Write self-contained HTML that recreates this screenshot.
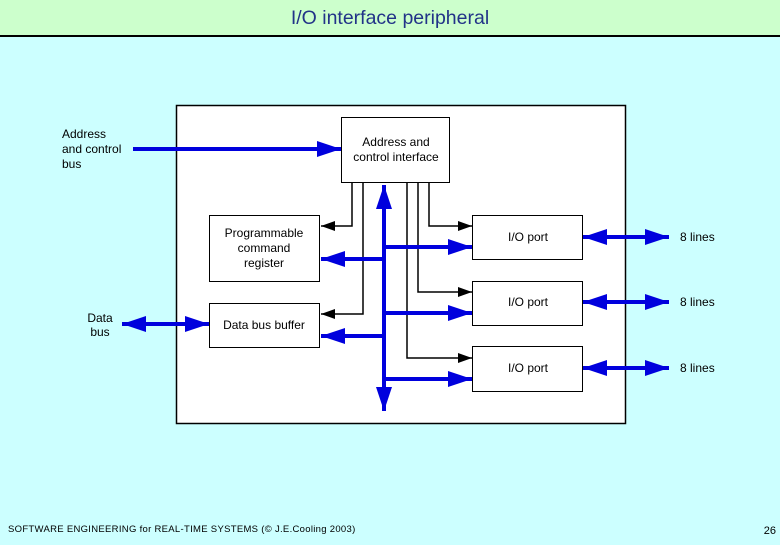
<!DOCTYPE html>
<html><head><style>
body{margin:0;width:780px;height:540px;overflow:hidden;background:#ccffff;font-family:"Liberation Sans",sans-serif;}
</style></head><body>
<svg width="780" height="540" xmlns="http://www.w3.org/2000/svg" font-family="Liberation Sans, sans-serif">
<defs>
<marker id="b" viewBox="0 0 10 10" refX="10" refY="5" markerWidth="24" markerHeight="16" markerUnits="userSpaceOnUse" orient="auto-start-reverse" preserveAspectRatio="none"><path d="M0,0L10,5L0,10z" fill="#0000dd"/></marker>
<marker id="k" viewBox="0 0 10 10" refX="10" refY="5" markerWidth="14" markerHeight="10" markerUnits="userSpaceOnUse" orient="auto-start-reverse" preserveAspectRatio="none"><path d="M0,0L10,5L0,10z" fill="#000"/></marker>
</defs>
<rect x="0" y="0" width="780" height="36" fill="#ccffcc"/>
<rect x="0" y="35" width="780" height="2" fill="#000"/>
<text x="390" y="24" text-anchor="middle" font-size="19.5" fill="#223388">I/O interface peripheral</text>
<rect x="176.5" y="105.5" width="449" height="318" fill="#fff" stroke="#000" stroke-width="1.5"/>
<g fill="#fff" stroke="#000" stroke-width="1">
<rect x="341.5" y="117.5" width="108" height="65"/>
<rect x="209.5" y="215.5" width="110" height="66"/>
<rect x="209.5" y="303.5" width="110" height="44"/>
<rect x="472.5" y="215.5" width="110" height="44"/>
<rect x="472.5" y="281.5" width="110" height="44"/>
<rect x="472.5" y="346.5" width="110" height="45"/>
</g>
<g fill="none" stroke="#000" stroke-width="1.5">
<path d="M352,182V226H321" marker-end="url(#k)"/>
<path d="M363,182V314H321" marker-end="url(#k)"/>
<path d="M407,182V358H472" marker-end="url(#k)"/>
<path d="M418,182V292H472" marker-end="url(#k)"/>
<path d="M429,182V226H472" marker-end="url(#k)"/>
</g>
<g stroke="#0000dd" stroke-width="4" fill="none">
<path d="M384,185V411" marker-start="url(#b)" marker-end="url(#b)"/>
<path d="M384,247H472" marker-end="url(#b)"/>
<path d="M384,313H472" marker-end="url(#b)"/>
<path d="M384,379H472" marker-end="url(#b)"/>
<path d="M384,259H321" marker-end="url(#b)"/>
<path d="M384,336H321" marker-end="url(#b)"/>
<path d="M133,149H341" marker-end="url(#b)"/>
<path d="M122,324H209" marker-start="url(#b)" marker-end="url(#b)"/>
<path d="M583,237H669" marker-start="url(#b)" marker-end="url(#b)"/>
<path d="M583,302H669" marker-start="url(#b)" marker-end="url(#b)"/>
<path d="M583,368H669" marker-start="url(#b)" marker-end="url(#b)"/>
</g>
<g font-size="12" fill="#000">
<text x="396" y="146" text-anchor="middle">Address and</text>
<text x="396" y="161" text-anchor="middle">control interface</text>
<text x="264" y="237" text-anchor="middle">Programmable</text>
<text x="264" y="252" text-anchor="middle">command</text>
<text x="264" y="267" text-anchor="middle">register</text>
<text x="264" y="329" text-anchor="middle">Data bus buffer</text>
<text x="528" y="241" text-anchor="middle">I/O port</text>
<text x="528" y="306" text-anchor="middle">I/O port</text>
<text x="528" y="372" text-anchor="middle">I/O port</text>
<text x="680" y="241">8 lines</text>
<text x="680" y="306">8 lines</text>
<text x="680" y="372">8 lines</text>
<text x="62" y="138">Address</text>
<text x="62" y="153">and control</text>
<text x="62" y="168">bus</text>
<text x="100" y="322" text-anchor="middle">Data</text>
<text x="100" y="336" text-anchor="middle">bus</text>
</g>
<text x="8" y="532" font-size="9.5" letter-spacing="0.3" fill="#000">SOFTWARE ENGINEERING for REAL-TIME SYSTEMS (© J.E.Cooling 2003)</text>
<text x="776" y="534" font-size="11" text-anchor="end" fill="#000">26</text>
</svg>
</body></html>
